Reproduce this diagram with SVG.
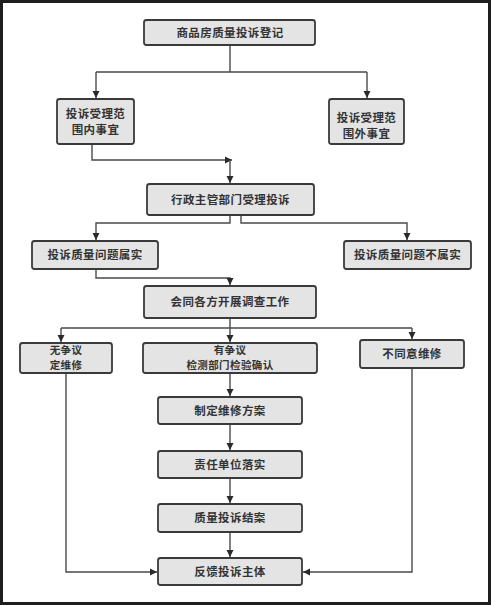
<svg xmlns="http://www.w3.org/2000/svg" width="491" height="605" viewBox="0 0 491 605">
<style>
.box{fill:#e4e4e4;stroke:#3a3a3a;stroke-width:1.8}
.t{font-family:"Noto Sans CJK SC","Noto Sans CJK TC",sans-serif;font-size:11.5px;font-weight:bold;fill:#333;text-anchor:middle;letter-spacing:0.4px}
.s{font-size:10.5px}
.c{fill:none;stroke:#4a4a4a;stroke-width:1.4}
</style>
<defs>
<marker id="ah" markerWidth="8" markerHeight="8" refX="7" refY="4" orient="auto" markerUnits="userSpaceOnUse">
<path d="M0,0.5 L7,4 L0,7.5 Z" fill="#2a2a2a"/>
</marker>
</defs>
<rect x="1.5" y="1.5" width="488" height="602" fill="#fff" stroke="#1e1e1e" stroke-width="3"/>
<g id="connectors">
<path class="c" d="M230,45 V72 M96,72 H367" />
<path class="c" d="M96,72 V98" marker-end="url(#ah)"/>
<path class="c" d="M367,72 V98" marker-end="url(#ah)"/>
<path class="c" d="M92,144 V160 H232" marker-end="url(#ah)"/>
<path class="c" d="M230,160 V183" marker-end="url(#ah)"/>
<path class="c" d="M230,215 V223 H96 V240" marker-end="url(#ah)"/>
<path class="c" d="M241,215 V223 H407 V240" marker-end="url(#ah)"/>
<path class="c" d="M96,269 V278 H230 V285" marker-end="url(#ah)"/>
<path class="c" d="M230,318 V328 M61,328 H412"/>
<path class="c" d="M61,328 V342" marker-end="url(#ah)"/>
<path class="c" d="M230,328 V342" marker-end="url(#ah)"/>
<path class="c" d="M412,328 V339" marker-end="url(#ah)"/>
<path class="c" d="M230,373 V396" marker-end="url(#ah)"/>
<path class="c" d="M230,424 V450" marker-end="url(#ah)"/>
<path class="c" d="M230,478 V503" marker-end="url(#ah)"/>
<path class="c" d="M230,532 V557" marker-end="url(#ah)"/>
<path class="c" d="M66,373 V572 H157" marker-end="url(#ah)"/>
<path class="c" d="M412,368 V572 H303" marker-end="url(#ah)"/>
</g>
<g id="n1"><rect class="box" x="144" y="20" width="171" height="25" rx="2.5"/><text class="t" x="230" y="37">商品房质量投诉登记</text></g>
<g id="n2"><rect class="box" x="57" y="99" width="77" height="45" rx="2.5"/><text class="t" x="95.5" y="118"><tspan x="95.5">投诉受理范</tspan><tspan x="95.5" dy="16">围内事宜</tspan></text></g>
<g id="n3"><rect class="box" x="329" y="99" width="75" height="45" rx="2.5"/><text class="t" x="366.5" y="122"><tspan x="366.5">投诉受理范</tspan><tspan x="366.5" dy="16">围外事宜</tspan></text></g>
<g id="n4"><rect class="box" x="147" y="184" width="167" height="31" rx="2.5"/><text class="t" x="230.5" y="204">行政主管部门受理投诉</text></g>
<g id="n5"><rect class="box" x="32" y="241" width="126" height="28" rx="2.5"/><text class="t" x="95" y="259">投诉质量问题属实</text></g>
<g id="n6"><rect class="box" x="344" y="241" width="127" height="28" rx="2.5"/><text class="t" x="407.5" y="259">投诉质量问题不属实</text></g>
<g id="n7"><rect class="box" x="144" y="286" width="172" height="32" rx="2.5"/><text class="t" x="230" y="306">会同各方开展调查工作</text></g>
<g id="n8"><rect class="box" x="20" y="343" width="92" height="30" rx="2.5"/><text class="t s" x="66" y="354"><tspan x="66">无争议</tspan><tspan x="66" dy="14.5">定维修</tspan></text></g>
<g id="n9"><rect class="box" x="143" y="343" width="174" height="30" rx="2.5"/><text class="t s" x="230" y="354"><tspan x="230">有争议</tspan><tspan x="230" dy="14.5">检测部门检验确认</tspan></text></g>
<g id="n10"><rect class="box" x="360" y="340" width="104" height="28" rx="2.5"/><text class="t" x="412" y="358">不同意维修</text></g>
<g id="n11"><rect class="box" x="158" y="397" width="144" height="27" rx="2.5"/><text class="t" x="230" y="415">制定维修方案</text></g>
<g id="n12"><rect class="box" x="158" y="451" width="144" height="27" rx="2.5"/><text class="t" x="230" y="469">责任单位落实</text></g>
<g id="n13"><rect class="box" x="158" y="504" width="144" height="28" rx="2.5"/><text class="t" x="230" y="522">质量投诉结案</text></g>
<g id="n14"><rect class="box" x="158" y="558" width="144" height="27" rx="2.5"/><text class="t" x="230" y="576">反馈投诉主体</text></g>
</svg>
